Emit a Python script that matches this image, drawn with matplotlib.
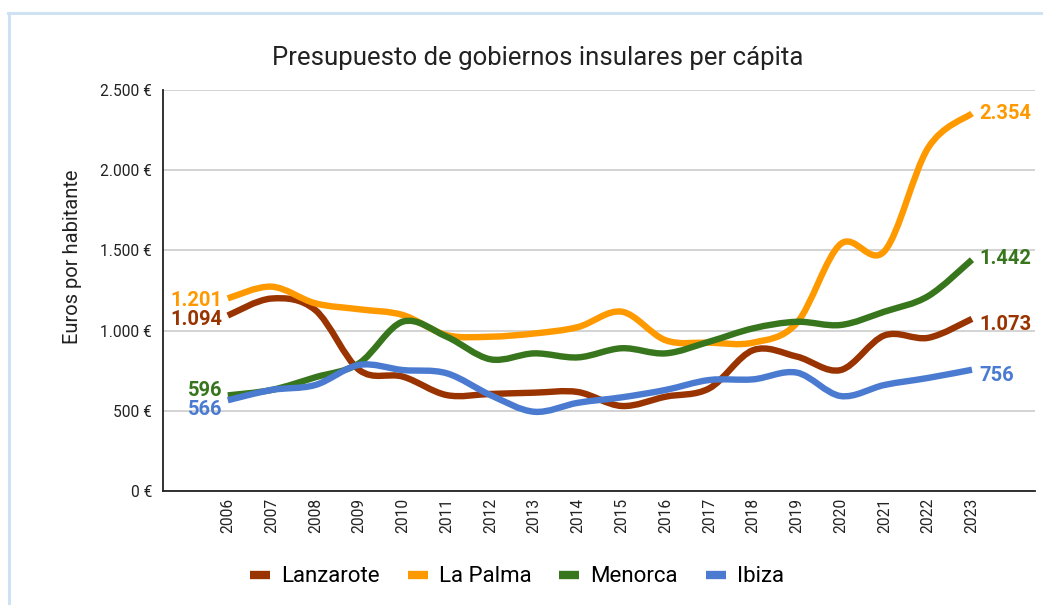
import matplotlib
matplotlib.use("Agg")
import matplotlib.pyplot as plt
from matplotlib.path import Path
from matplotlib.patches import PathPatch
from matplotlib.lines import Line2D
import numpy as np

plt.rcParams['font.family'] = ['Roboto', 'DejaVu Sans']

years = ["2006", "2007", "2008", "2009", "2010", "2011", "2012", "2013", "2014",
         "2015", "2016", "2017", "2018", "2019", "2020", "2021", "2022", "2023"]
lanzarote = [1094, 1200, 1128, 755, 713, 598, 605, 613, 617, 530, 588, 640, 878, 838, 754, 970, 955, 1073]
la_palma = [1201, 1274, 1170, 1133, 1097, 972, 962, 982, 1022, 1118, 940, 925, 925, 1048, 1540, 1495, 2140, 2354]
menorca = [596, 630, 709, 796, 1056, 962, 821, 858, 833, 890, 858, 931, 1014, 1055, 1035, 1118, 1215, 1442]
ibiza = [566, 630, 661, 786, 754, 734, 598, 494, 550, 584, 630, 692, 696, 738, 592, 661, 705, 756]
series_names = ["Lanzarote", "La Palma", "Menorca", "Ibiza"]
series_vals = [lanzarote, la_palma, menorca, ibiza]
colors = ["#993300", "#ff9900", "#38761d", "#4a7bd0"]
first_labels = ["1.094", "1.201", "596", "566"]
last_labels = ["1.073", "2.354", "1.442", "756"]
first_offsets = [-3, -1.5, 3.5, -7]
last_offsets = [-4, 0, 1, -4]
yticks = [0, 500, 1000, 1500, 2000, 2500]
ytick_labels = ["0 €", "500 €", "1.000 €", "1.500 €", "2.000 €", "2.500 €"]
title = "Presupuesto de gobiernos insulares per cápita"
ylabel = "Euros por habitante"

W, H = 1043, 605
fig = plt.figure(figsize=(W / 100, H / 100), dpi=100)
ax = fig.add_axes([163 / W, 1 - 491 / H, (1035 - 163) / W, (491 - 90) / H])


def smooth_path(xs, ys):
    pts = np.column_stack([xs, ys]).astype(float)
    n = len(pts)
    verts = [pts[0]]
    codes = [Path.MOVETO]
    for i in range(n - 1):
        p0 = pts[i - 1] if i > 0 else pts[i]
        p1 = pts[i]
        p2 = pts[i + 1]
        p3 = pts[i + 2] if i + 2 < n else pts[i + 1]
        c1 = p1 + (p2 - p0) / 6.0
        c2 = p2 - (p3 - p1) / 6.0
        verts += [c1, c2, p2]
        codes += [Path.CURVE4] * 3
    return Path(verts, codes)


x = np.arange(len(years))
for name, vals, c, fl, ll, fo, lo in zip(series_names, series_vals, colors,
                                          first_labels, last_labels, first_offsets, last_offsets):
    patch = PathPatch(smooth_path(x, vals), facecolor='none', edgecolor=c, lw=4.6,
                      capstyle='butt', joinstyle='round', zorder=3)
    ax.add_patch(patch)
    ax.annotate(fl, (x[0], vals[0]), xytext=(-4, fo), textcoords='offset points',
                ha='right', va='center', color=c, fontsize=14.5, fontweight='bold', zorder=4)
    ax.annotate(ll, (x[-1], vals[-1]), xytext=(5, lo), textcoords='offset points',
                ha='left', va='center', color=c, fontsize=14.5, fontweight='bold', zorder=4)

ax.set_xlim(-1.48, len(years) - 1 + 1.44)
ax.set_ylim(0, 2500)
ax.set_yticks(yticks)
ax.set_yticklabels(ytick_labels, fontsize=11.2, color='#222222')
ax.set_xticks(x)
ax.set_xticklabels(years, rotation=90, fontsize=11.2, color='#222222')
ax.tick_params(axis='both', length=0, pad=5)
ax.tick_params(axis='y', pad=8)
ax.grid(axis='y', color='#cccccc', lw=1.2, zorder=0)
ax.set_axisbelow(True)
for s in ['top', 'right']:
    ax.spines[s].set_visible(False)
for s in ['left', 'bottom']:
    ax.spines[s].set_color('#222222')
    ax.spines[s].set_linewidth(1.3)
    ax.spines[s].set_zorder(5)

fig.text(538 / W, 1 - 58 / H, title, ha='center', va='center', fontsize=18.5, color='#222222')
fig.text(73 / W, 1 - 257 / H, ylabel, ha='center', va='center', rotation=90,
         fontsize=14.5, color='#222222')

handles = [Line2D([0], [0], color=c, lw=6, solid_capstyle='butt') for c in colors]
fig.legend(handles, series_names, loc='center', bbox_to_anchor=(517 / W, 1 - 577 / H),
           ncol=4, frameon=False, fontsize=16, handlelength=0.9, handletextpad=0.5,
           columnspacing=1.25)

# light blue frame (top and left edges visible)
fig.add_artist(Line2D([8 / W, 1.0], [1 - 13 / H, 1 - 13 / H], color='#cfe2f3', lw=2.2))
fig.add_artist(Line2D([9 / W, 9 / W], [0, 1 - 13 / H], color='#cfe2f3', lw=2.2))

fig.savefig("out.png", dpi=100, facecolor='white')
